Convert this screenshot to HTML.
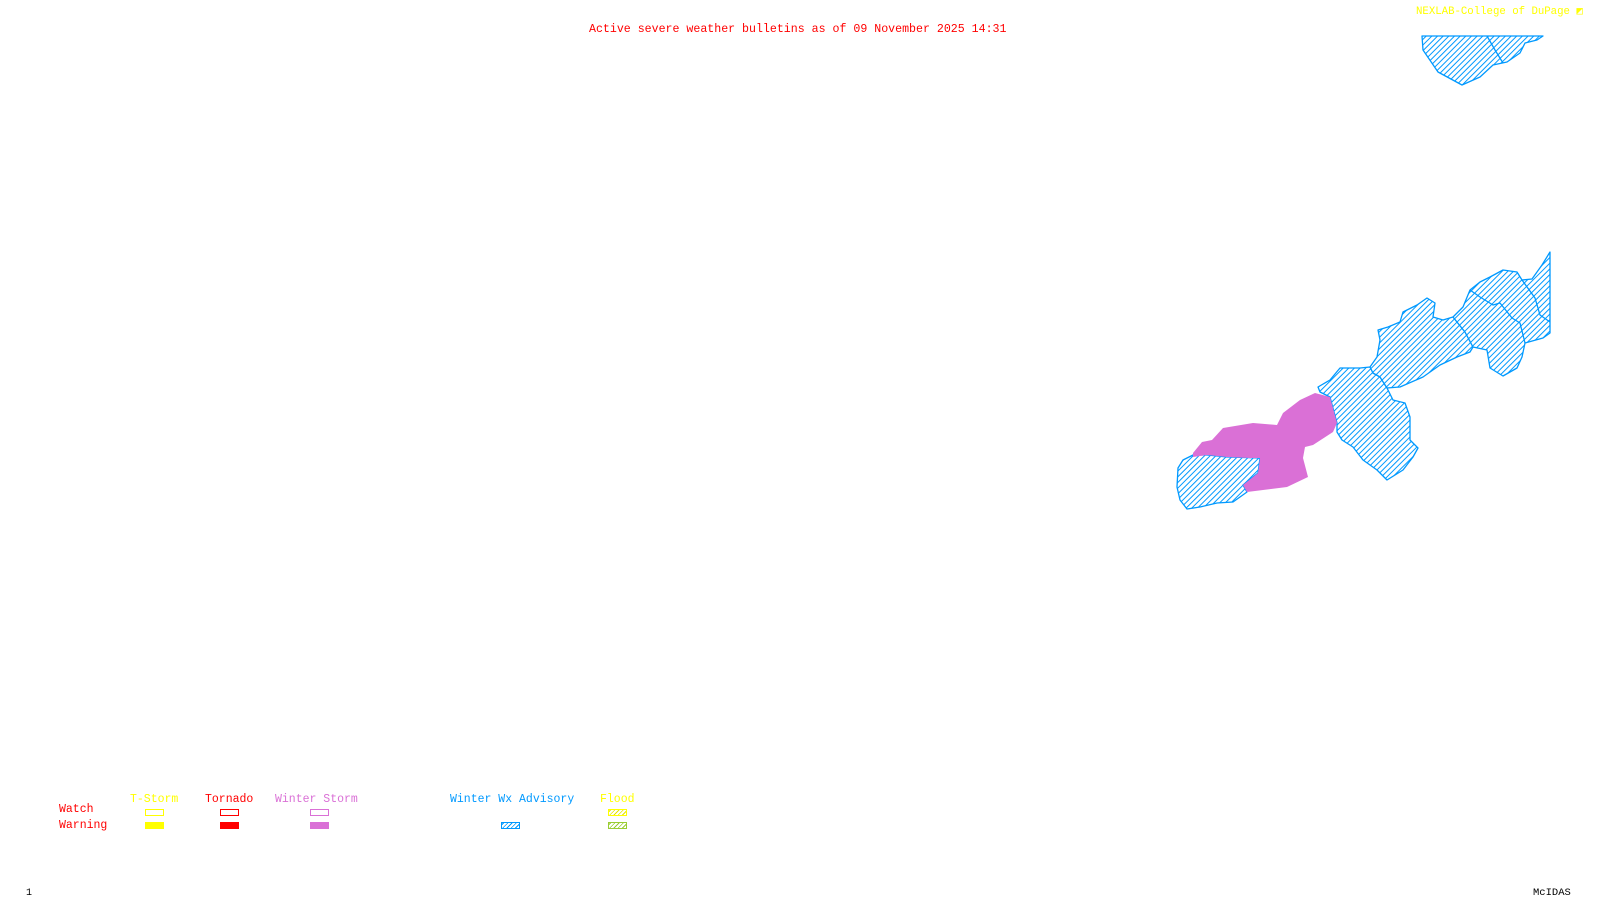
<!DOCTYPE html>
<html><head><meta charset="utf-8"><style>
html,body{margin:0;padding:0;background:#fff;}
body{width:1600px;height:900px;position:relative;overflow:hidden;font-family:"Liberation Mono","DejaVu Sans Mono",monospace;}
.t{position:absolute;white-space:nowrap;font-size:11.5px;line-height:12px;}
.b{position:absolute;width:19px;height:7px;box-sizing:border-box;}
</style></head><body>
<svg width="1600" height="900" style="position:absolute;left:0;top:0">
<defs>
<pattern id="h" patternUnits="userSpaceOnUse" width="4" height="4" patternTransform="rotate(-45)">
<rect width="4" height="4" fill="#fff"/><line x1="0" y1="2" x2="4" y2="2" stroke="#0099ff" stroke-width="1"/>
</pattern>
</defs>
<g fill="url(#h)" stroke="#0099ff" stroke-width="1.3" stroke-linejoin="round">
<polygon points="1422,36 1423,50 1438,72 1462,85 1480,77 1493,65 1507,62 1520,53 1525,43 1537,40 1543,36"/>
<polyline fill="none" points="1487,36 1495,50 1503,63"/>
<polygon points="1178,468 1183,460 1193,455 1207,455 1227,457 1260,458 1258,473 1243,485 1247,492 1233,502 1217,503 1200,507 1187,509 1180,500 1177,487"/>
<polygon points="1318,387 1330,380 1340,368 1360,368 1370,367 1373,373 1380,377 1387,388 1393,400 1405,403 1410,417 1410,440 1418,448 1413,457 1403,470 1387,480 1377,470 1363,460 1353,447 1342,440 1337,432 1337,423 1330,397 1320,392"/>
<polygon points="1373,373 1370,367 1377,357 1380,340 1378,330 1388,327 1400,322 1403,312 1417,305 1427,298 1435,303 1433,317 1443,320 1453,317 1465,332 1473,347 1470,352 1457,357 1440,365 1423,377 1400,387 1387,388 1380,377"/>
<polygon points="1453,317 1463,307 1470,290 1480,282 1490,277 1503,270 1517,272 1522,280 1532,279 1542,265 1550,252 1550,333 1543,338 1525,343 1522,357 1517,368 1503,376 1490,368 1487,350 1473,347 1465,332"/>
<polyline fill="none" points="1470,290 1480,297 1493,305 1500,303 1512,318 1520,323 1525,343"/>
<polyline fill="none" points="1522,280 1535,298 1540,315 1550,322"/>
</g>
<polygon fill="#da70d6" points="1193,453 1202,442 1212,440 1223,428 1253,423 1277,425 1283,413 1300,400 1315,393 1330,397 1337,423 1333,432 1313,445 1305,447 1303,458 1308,477 1287,487 1247,492 1243,485 1258,473 1260,458 1250,458 1227,457 1207,455 1193,457"/>
</svg>
<div class="t" style="left:589px;top:24px;color:#ff0000;font-size:11.6px">Active severe weather bulletins as of 09 November 2025 14:31</div>
<div class="t" style="left:1416px;top:6px;color:#ffff00;font-size:10.7px">NEXLAB-College of DuPage ◩</div>
<div class="t" style="left:130px;top:794px;color:#ffff00">T-Storm</div>
<div class="t" style="left:205px;top:794px;color:#ff0000">Tornado</div>
<div class="t" style="left:275px;top:794px;color:#da70d6">Winter Storm</div>
<div class="t" style="left:450px;top:794px;color:#0099ff">Winter Wx Advisory</div>
<div class="t" style="left:600px;top:794px;color:#ffff00">Flood</div>
<div class="t" style="left:59px;top:804px;color:#ff0000">Watch</div>
<div class="t" style="left:59px;top:820px;color:#ff0000">Warning</div>
<div class="b" style="left:145px;top:809px;border:1px solid #ffff00"></div>
<div class="b" style="left:220px;top:809px;border:1px solid #ff0000"></div>
<div class="b" style="left:310px;top:809px;border:1px solid #da70d6"></div>
<div class="b" style="left:608px;top:809px;border:1px solid #ffff00;background:repeating-linear-gradient(-45deg,#fff 0 2px,#e6e600 2px 3px)"></div>
<div class="b" style="left:145px;top:822px;background:#ffff00"></div>
<div class="b" style="left:220px;top:822px;background:#ff0000"></div>
<div class="b" style="left:310px;top:822px;background:#da70d6"></div>
<div class="b" style="left:501px;top:822px;border:1px solid #0099ff;background:repeating-linear-gradient(-45deg,#fff 0 2px,#0099ff 2px 3px)"></div>
<div class="b" style="left:608px;top:822px;border:1px solid #9acd32;background:repeating-linear-gradient(-45deg,#fff 0 2px,#9acd32 2px 3px)"></div>
<div class="t" style="left:26px;top:888px;color:#000;font-size:10px">1</div>
<div class="t" style="left:1533px;top:887px;color:#000;font-size:10.5px">McIDAS</div>
</body></html>
